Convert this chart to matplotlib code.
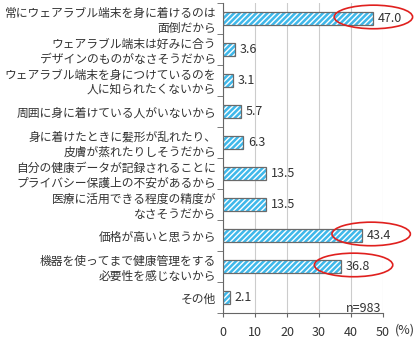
import numpy as np
import matplotlib.pyplot as plt
from matplotlib.patches import Ellipse

plt.rcParams['font.family'] = ['Noto Sans CJK JP', 'DejaVu Sans']

labels = ['常にウェアラブル端末を身に着けるのは\n面倒だから',
          'ウェアラブル端末は好みに合う\nデザインのものがなさそうだから',
          'ウェアラブル端末を身につけているのを\n人に知られたくないから',
          '周囲に身に着けている人がいないから',
          '身に着けたときに髪形が乱れたり、\n皮膚が蒸れたりしそうだから',
          '自分の健康データが記録されることに\nプライバシー保護上の不安があるから',
          '医療に活用できる程度の精度が\nなさそうだから',
          '価格が高いと思うから',
          '機器を使ってまで健康管理をする\n必要性を感じないから',
          'その他']
values = [47.0, 3.6, 3.1, 5.7, 6.3, 13.5, 13.5, 43.4, 36.8, 2.1]
circled = [0, 7, 8]
xticks = [0, 10, 20, 30, 40, 50]

fig = plt.figure(figsize=(4.16, 3.39), dpi=100)
ax = fig.add_axes([223 / 416, 26 / 339, 160 / 416, 310 / 339])

y = np.arange(len(values))
# fill with white hatch, then gray outline on top
ax.barh(y, values, height=0.4, color='#3fb8ea', edgecolor='white',
        hatch='//////', linewidth=0, zorder=3)
ax.barh(y, values, height=0.4, fill=False, edgecolor='#6a6a6a',
        linewidth=0.9, zorder=3.5)

for i, v in enumerate(values):
    ax.text(v + 1.5, i, f'{v:.1f}', va='center', ha='left', fontsize=9, color='#333333')

# red ellipses around the notable bars
ell_x = {0: 47.0, 7: 46.3, 8: 40.8}
for i in circled:
    e = Ellipse((ell_x[i], i - 0.05), 24.5, 0.76, fill=False,
                edgecolor='#e0201e', linewidth=1.2, clip_on=False, zorder=4)
    ax.add_patch(e)

ax.set_xlim(0, 50)
ax.set_ylim(len(values) - 0.5, -0.5)
ax.set_xticks(xticks)
ax.set_xticklabels([str(t) for t in xticks], fontsize=9, color='#333333')
ax.set_yticks(y)
ax.set_yticklabels(labels, fontsize=8.5, color='#333333', linespacing=1.15)
ax.set_yticks(np.arange(len(values) + 1) - 0.5, minor=True)
ax.tick_params(axis='y', which='major', length=0, pad=5)
ax.tick_params(axis='y', which='minor', length=4, color='#666666')
ax.tick_params(axis='x', length=3, color='#666666', pad=6)
for lab in ax.get_yticklabels():
    lab.set_multialignment('right')

# (%) on the same row as the tick labels
ax.annotate('(%)', xy=(50, 0), xycoords=('data', 'axes fraction'),
            xytext=(12, -17), textcoords='offset pixels', fontsize=9,
            color='#333333', va='center', ha='left')

ax.grid(axis='x', color='#cccccc', linewidth=0.8, zorder=0)
for s in ['top', 'right']:
    ax.spines[s].set_visible(False)
for s in ['left', 'bottom']:
    ax.spines[s].set_color('#666666')

ax.text(49.5, 9.35, 'n=983', ha='right', va='center', fontsize=9, color='#333333')

fig.savefig('out.png', dpi=100)
